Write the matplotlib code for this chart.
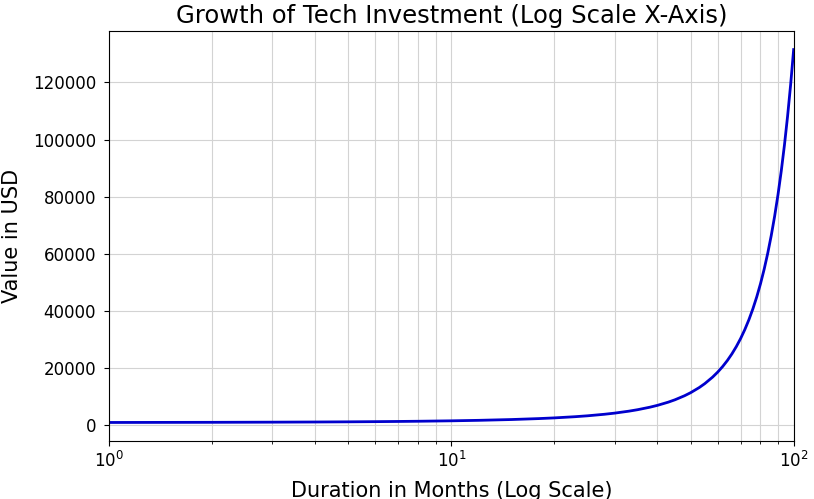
import matplotlib
matplotlib.use("Agg")
import matplotlib.pyplot as plt

# months and value
months = [1, 2, 3, 4, 5, 6, 7, 8, 10, 12, 15, 18, 20, 23, 25, 28, 30, 33, 35,
          38, 40, 43, 45, 48, 50, 53, 55, 58, 60, 62, 64, 66, 68, 70, 72, 74,
          76, 78, 80, 82, 84, 86, 88, 90, 92, 94, 96, 98, 100]
value = [1050, 1103, 1158, 1216, 1276, 1340, 1407, 1477, 1629, 1796, 2079,
         2407, 2653, 3072, 3386, 3920, 4322, 5003, 5516, 6386, 7040, 8150,
         8985, 10401, 11467, 13275, 14636, 16943, 18679, 20594, 22705, 25032,
         27598, 30426, 33545, 36983, 40774, 44953, 49561, 54641, 60242, 66417,
         73225, 80730, 89005, 98128, 108186, 119275, 131501]

fig, ax = plt.subplots(figsize=(8.14, 4.99), dpi=100)
ax.plot(months, value, color="mediumblue", linewidth=2)
ax.set_xscale("log")
ax.set_xlim(1, 100)
ax.grid(True, which="both", color="lightgray", linewidth=0.8)
ax.set_title("Growth of Tech Investment (Log Scale X-Axis)", fontsize=17.5)
ax.set_xlabel("Duration in Months (Log Scale)", fontsize=15, labelpad=7)
ax.set_ylabel("Value in USD", fontsize=15, labelpad=8)
ax.tick_params(labelsize=12)
ax.tick_params(axis="y", pad=6)
fig.subplots_adjust(left=0.134, right=0.975, top=0.938, bottom=0.116)
fig.savefig("out.png")
